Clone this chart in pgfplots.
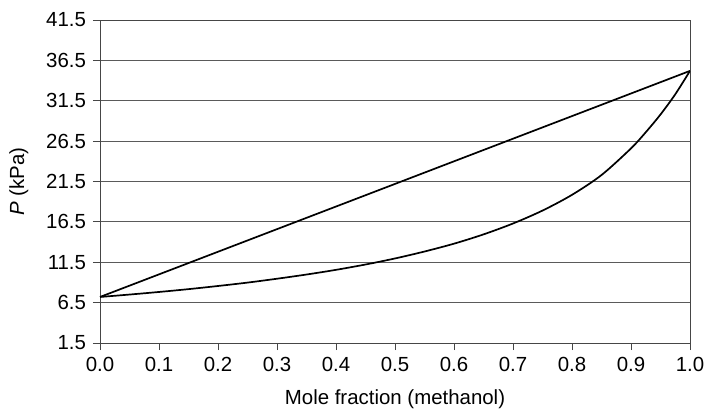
\documentclass[border=0pt]{standalone}
\usepackage{pgfplots}
\pgfplotsset{compat=1.18}
\usepackage{fontspec}
\setmainfont{Liberation Sans}
\definecolor{gridc}{RGB}{90,90,90}
\definecolor{axc}{RGB}{70,70,70}
\begin{document}
\fontsize{20.5}{24}\selectfont
\begin{tikzpicture}
\path[use as bounding box] (-100bp,-67bp) rectangle (607bp,343bp);
\begin{axis}[
  at={(0,0)}, anchor=south west,
  scale only axis,
  width=590bp, height=323bp,
  xmin=0, xmax=1, ymin=1.5, ymax=41.5,
  xtick={0,0.1,0.2,0.3,0.4,0.5,0.6,0.7,0.8,0.9,1.0},
  ytick={1.5,6.5,11.5,16.5,21.5,26.5,31.5,36.5,41.5},
  /pgf/number format/assume math mode=true,
  xticklabel style={/pgf/number format/.cd,fixed,fixed zerofill,precision=1},
  yticklabel style={/pgf/number format/.cd,fixed,fixed zerofill,precision=1},
  tick align=outside,
  tick pos=left,
  major tick length=7bp,
  tick style={axc, line width=0.8bp},
  axis line style={axc, line width=0.9bp},
  ymajorgrids,
  major grid style={gridc, line width=0.8bp},
  xlabel={Mole fraction (methanol)},
  ylabel={\textit{P} (kPa)},
  ticklabel style={font=\fontsize{20.5}{24}\selectfont},
  label style={font=\fontsize{20.5}{24}\selectfont},
  xlabel style={yshift=-4bp},
  ylabel style={yshift=4bp},
]
\addplot[black, line width=1.7bp] coordinates {(0,7.2) (1,35.2)};
\addplot[black, line width=1.7bp, smooth] coordinates {
(0,7.2) (0.05,7.5) (0.1,7.82) (0.15,8.17) (0.2,8.56) (0.25,8.98)
(0.3,9.46) (0.35,9.98) (0.4,10.56) (0.45,11.22) (0.5,11.97) (0.55,12.83)
(0.6,13.8) (0.65,14.95) (0.7,16.3) (0.75,17.9) (0.8,19.85) (0.85,22.3)
(0.9,25.6) (0.925,27.6) (0.95,29.8) (0.975,32.3) (1.0,35.2)};
\end{axis}
\end{tikzpicture}
\end{document}
